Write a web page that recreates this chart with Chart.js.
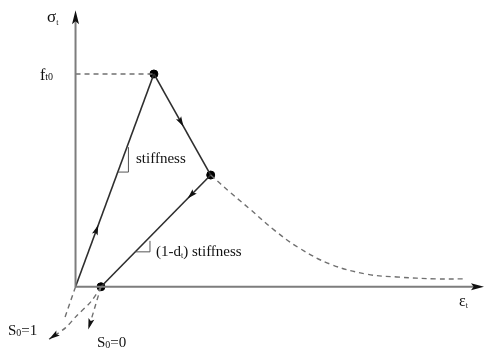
<!DOCTYPE html>
<html>
<head>
<meta charset="utf-8">
<script src="https://cdn.jsdelivr.net/npm/chart.js@4.4.1/dist/chart.umd.min.js"></script>
<style>
  html, body { margin: 0; padding: 0; background: #ffffff; }
  canvas { display: block; }
</style>
</head>
<body>
<canvas id="c" width="489" height="351"></canvas>
<script>
// Tensile stress-strain response with damage (strain normalised to peak strain, stress to ft0)
const loadStrain = [0, 1.0];
const loadStress = [0, 1.0];
const softenStrain = [1.0, 1.725];
const softenStress = [1.0, 0.525];
const unloadStrain = [1.725, 0.325];
const unloadStress = [0.525, 0];
const tailStrain = [1.725, 1.975, 2.225, 2.54, 2.85, 3.26, 3.72, 4.1, 4.6, 4.95];
const tailStress = [0.525, 0.443, 0.365, 0.265, 0.183, 0.105, 0.059, 0.046, 0.037, 0.037];
const peakLineStrain = [0, 1.0];
const peakLineStress = [1.0, 1.0];
const closeS1Strain = [0.325, 0.2, 0.0125, -0.125, -0.3375];
const closeS1Stress = [0, -0.0685, -0.137, -0.192, -0.2466];
const closeS0Strain = [0.325, 0.1625];
const closeS0Stress = [0, -0.201];
const originStrain = [0, -0.15];
const originStress = [0, -0.16];
const markStrain = [1.0, 1.725, 0.325];
const markStress = [1.0, 0.525, 0];
const axisTipX = 5.2125;
const axisTipY = 1.30;

const pts = (xs, ys) => xs.map((x, i) => ({ x: x, y: ys[i] }));

const SOLID = '#2e2e2e';
const DASH = '#707070';
const AXIS = '#7d7d7d';

function lineSet(xs, ys, color, width, dash, tension) {
  return {
    type: 'scatter', showLine: true, data: pts(xs, ys),
    borderColor: color, borderWidth: width, borderDash: dash || [],
    pointRadius: 0, tension: tension || 0, fill: false
  };
}

function arrowHead(ctx, x, y, ang, len, hw) {
  ctx.save();
  ctx.translate(x, y);
  ctx.rotate(ang);
  ctx.beginPath();
  ctx.moveTo(0, 0);
  ctx.lineTo(-len, -hw);
  ctx.lineTo(-len * 0.8, 0);
  ctx.lineTo(-len, hw);
  ctx.closePath();
  ctx.fillStyle = '#111';
  ctx.fill();
  ctx.restore();
}

const decor = {
  id: 'decor',
  afterDatasetsDraw(chart) {
    const ctx = chart.ctx;
    const sx = chart.scales.x, sy = chart.scales.y;
    const px = v => sx.getPixelForValue(v);
    const py = v => sy.getPixelForValue(v);

    // arrowheads part-way along a segment
    const mid = (xs, ys, i, t) => {
      const x0 = px(xs[i]), y0 = py(ys[i]), x1 = px(xs[i + 1]), y1 = py(ys[i + 1]);
      arrowHead(ctx, x0 + (x1 - x0) * t, y0 + (y1 - y0) * t, Math.atan2(y1 - y0, x1 - x0), 10, 3);
    };
    mid(loadStrain, loadStress, 0, 0.29);
    mid(softenStrain, softenStress, 0, 0.52);
    mid(unloadStrain, unloadStress, 0, 0.21);

    // arrowheads at path ends
    const end = (xs, ys) => {
      const n = xs.length;
      const x0 = px(xs[n - 2]), y0 = py(ys[n - 2]), x1 = px(xs[n - 1]), y1 = py(ys[n - 1]);
      arrowHead(ctx, x1, y1, Math.atan2(y1 - y0, x1 - x0), 11, 3);
    };
    end(closeS1Strain, closeS1Stress);
    end(closeS0Strain, closeS0Stress);
    arrowHead(ctx, px(0), py(axisTipY), -Math.PI / 2, 14, 3.5);
    arrowHead(ctx, px(axisTipX), py(0), 0, 13, 3.5);

    // slope triangles
    ctx.save();
    ctx.strokeStyle = '#555';
    ctx.lineWidth = 1;
    const tri = (xs, ys, yBase, xRight) => {
      const k = (yBase - ys[0]) / (ys[1] - ys[0]);
      const xl = xs[0] + k * (xs[1] - xs[0]);
      const kt = (xRight - xs[0]) / (xs[1] - xs[0]);
      const yt = ys[0] + kt * (ys[1] - ys[0]);
      ctx.beginPath();
      ctx.moveTo(px(xl), py(yBase));
      ctx.lineTo(px(xRight), py(yBase));
      ctx.lineTo(px(xRight), py(yt) + 4);
      ctx.stroke();
    };
    tri(loadStrain, loadStress, 0.539, 0.675);
    tri([unloadStrain[1], unloadStrain[0]], [unloadStress[1], unloadStress[0]], 0.164, 0.95);
    ctx.restore();

    // text
    ctx.save();
    ctx.fillStyle = '#111';
    ctx.textBaseline = 'alphabetic';
    const txt = (s, x, y, size) => {
      ctx.font = size + 'px "Liberation Serif", serif';
      ctx.fillText(s, x, y);
      return ctx.measureText(s).width;
    };
    let w = txt('σ', 47, 22, 17);
    txt('t', 47 + w, 25, 8);
    w = txt('f', 40, 80, 16);
    txt('t0', 40 + w, 80, 10);
    w = txt('ε', 459, 306, 16);
    txt('t', 459 + w, 308, 8);
    txt('stiffness', 136, 163, 15);
    w = txt('(1-d', 156, 256, 15);
    let w2 = txt('t', 156 + w, 258, 8);
    txt(') stiffness', 156 + w + w2, 256, 15);
    w = txt('S', 8, 335, 15);
    w2 = txt('0', 8 + w, 336, 10);
    txt('=1', 8 + w + w2, 335, 15);
    w = txt('S', 97, 347, 15);
    w2 = txt('0', 97 + w, 348, 10);
    txt('=0', 97 + w + w2, 347, 15);
    ctx.restore();
  }
};

new Chart(document.getElementById('c'), {
  type: 'scatter',
  data: {
    datasets: [
      lineSet([0, 0], [0, axisTipY - 0.04], AXIS, 2),
      lineSet([0, axisTipX - 0.1], [0, 0], AXIS, 2),
      lineSet(peakLineStrain, peakLineStress, DASH, 1.4, [5, 4]),
      lineSet(tailStrain, tailStress, DASH, 1.4, [5, 4], 0.4),
      lineSet(originStrain, originStress, DASH, 1.4, [5, 4]),
      lineSet(closeS1Strain, closeS1Stress, DASH, 1.4, [5, 4], 0.3),
      lineSet(closeS0Strain, closeS0Stress, DASH, 1.4, [5, 4]),
      lineSet(loadStrain, loadStress, SOLID, 1.6),
      lineSet(softenStrain, softenStress, SOLID, 1.6),
      lineSet(unloadStrain, unloadStress, SOLID, 1.6),
      {
        type: 'scatter', data: pts(markStrain, markStress),
        pointRadius: 4, pointBackgroundColor: '#000', pointBorderColor: '#000', showLine: false
      }
    ]
  },
  options: {
    responsive: false,
    animation: false,
    devicePixelRatio: 1,
    layout: { padding: 0 },
    plugins: { legend: { display: false }, tooltip: { enabled: false } },
    scales: {
      x: { type: 'linear', min: -0.9, max: 5.2125, display: false },
      y: { type: 'linear', min: -0.2785, max: 1.3242, display: false }
    }
  },
  plugins: [decor]
});
</script>
</body>
</html>
